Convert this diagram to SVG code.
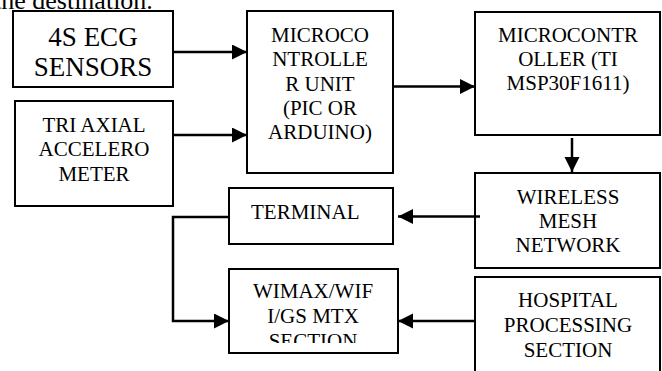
<svg xmlns="http://www.w3.org/2000/svg" width="662" height="371" viewBox="0 0 662 371">
  <style>
    .box { fill: #ffffff; stroke: #000000; stroke-width: 2; }
    .lbl { font-size: 21px; fill: #000000; text-anchor: middle; }
    .left { text-anchor: start; }
    .big { font-size: 27px; }
    .wire { fill: none; stroke: #000000; stroke-width: 2.5; }
  </style>
  <defs>
    <marker id="arrow" markerUnits="userSpaceOnUse" markerWidth="16" markerHeight="16" refX="15" refY="7.5" orient="auto">
      <path d="M0,0 L15,7.5 L0,15 z" fill="#000000"/>
    </marker>
    <clipPath id="wimaxClip">
      <rect x="229" y="269" width="170" height="74"/>
    </clipPath>
  </defs>

  <rect width="662" height="371" fill="#ffffff"/>

  <g font-family="Liberation Serif, Times New Roman, serif">
    <!-- tail of the preceding paragraph -->
    <text x="-6" y="9" font-size="26" fill="#000000">the destination.</text>

    <g id="ecg-sensors">
      <rect class="box" x="13" y="11" width="160" height="76"/>
      <text class="lbl big" x="93" y="46">4S ECG</text>
      <text class="lbl big" x="93" y="76">SENSORS</text>
    </g>

    <g id="accelerometer">
      <rect class="box" x="15" y="101" width="158" height="105"/>
      <text class="lbl" x="94" y="132">TRI AXIAL</text>
      <text class="lbl" x="94" y="156">ACCELERO</text>
      <text class="lbl" x="94" y="181">METER</text>
    </g>

    <g id="mcu-unit">
      <rect class="box" x="247" y="11" width="146" height="162"/>
      <text class="lbl" x="320" y="42">MICROCO</text>
      <text class="lbl" x="320" y="66">NTROLLE</text>
      <text class="lbl" x="320" y="91">R UNIT</text>
      <text class="lbl" x="320" y="115">(PIC OR</text>
      <text class="lbl" x="320" y="139">ARDUINO)</text>
    </g>

    <g id="msp-controller">
      <rect class="box" x="475" y="12" width="185" height="123"/>
      <text class="lbl" x="568" y="42">MICROCONTR</text>
      <text class="lbl" x="568" y="66">OLLER (TI</text>
      <text class="lbl" x="568" y="90">MSP30F1611)</text>
    </g>

    <g id="mesh-network">
      <rect class="box" x="475" y="173" width="185" height="95"/>
      <text class="lbl" x="568" y="204">WIRELESS</text>
      <text class="lbl" x="568" y="228">MESH</text>
      <text class="lbl" x="568" y="252">NETWORK</text>
    </g>

    <g id="hospital">
      <rect class="box" x="475" y="277" width="185" height="110"/>
      <text class="lbl" x="568" y="307">HOSPITAL</text>
      <text class="lbl" x="568" y="332">PROCESSING</text>
      <text class="lbl" x="568" y="357">SECTION</text>
    </g>

    <g id="terminal">
      <rect class="box" x="229" y="188" width="164" height="56"/>
      <text class="lbl left" x="251" y="219">TERMINAL</text>
    </g>

    <g id="wimax">
      <rect class="box" x="229" y="269" width="169" height="84"/>
      <g clip-path="url(#wimaxClip)">
        <text class="lbl" x="313" y="298">WIMAX/WIF</text>
        <text class="lbl" x="313" y="323">I/GS MTX</text>
        <text class="lbl" x="313" y="348">SECTION</text>
      </g>
    </g>
  </g>

  <g id="connectors">
    <line class="wire" x1="173" y1="52" x2="247" y2="52" marker-end="url(#arrow)"/>
    <line class="wire" x1="173" y1="135" x2="247" y2="135" marker-end="url(#arrow)"/>
    <line class="wire" x1="393" y1="86.5" x2="475" y2="86.5" marker-end="url(#arrow)"/>
    <line class="wire" x1="572" y1="138" x2="572" y2="172" marker-end="url(#arrow)"/>
    <line class="wire" x1="480" y1="216.5" x2="398" y2="216.5" marker-end="url(#arrow)"/>
    <line class="wire" x1="475" y1="321" x2="398" y2="321" marker-end="url(#arrow)"/>
    <polyline class="wire" points="229,217 173,217 173,321 229,321" marker-end="url(#arrow)"/>
  </g>
</svg>
